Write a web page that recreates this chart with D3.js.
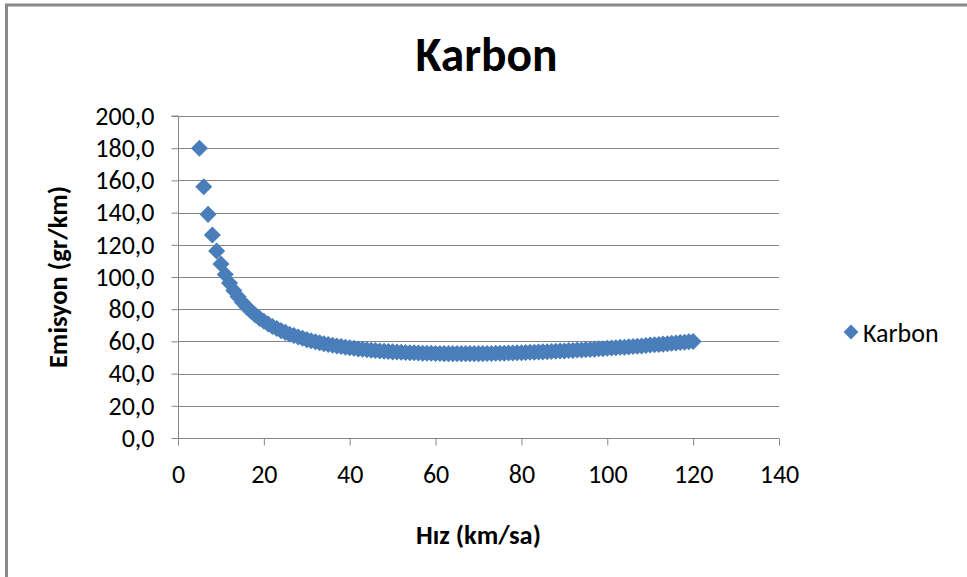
<!DOCTYPE html>
<html>
<head>
<meta charset="utf-8">
<script src="https://cdn.jsdelivr.net/npm/d3@7"></script>
<style>
  html, body { margin: 0; padding: 0; background: #fff; }
  svg { display: block; }
  text { font-family: Carlito, Lato, "Liberation Sans", sans-serif; fill: #000; }
</style>
</head>
<body>
<svg id="chart" width="967" height="577"></svg>
<script>
// ---- data ----
const chartTitle = "Karbon";
const seriesName = "Karbon";
const xTitle = "Hız (km/sa)";
const yTitle = "Emisyon (gr/km)";
const xTicks = [0, 20, 40, 60, 80, 100, 120, 140];
const yTicks = [0, 20, 40, 60, 80, 100, 120, 140, 160, 180, 200];

const speeds = [
  5, 6, 7, 8, 9, 10, 11, 12, 13, 14, 15, 16, 17, 18, 19, 20, 21, 22, 23, 24,
  25, 26, 27, 28, 29, 30, 31, 32, 33, 34, 35, 36, 37, 38, 39, 40, 41, 42, 43, 44,
  45, 46, 47, 48, 49, 50, 51, 52, 53, 54, 55, 56, 57, 58, 59, 60, 61, 62, 63, 64,
  65, 66, 67, 68, 69, 70, 71, 72, 73, 74, 75, 76, 77, 78, 79, 80, 81, 82, 83, 84,
  85, 86, 87, 88, 89, 90, 91, 92, 93, 94, 95, 96, 97, 98, 99, 100, 101, 102, 103, 104,
  105, 106, 107, 108, 109, 110, 111, 112, 113, 114, 115, 116, 117, 118, 119, 120
];
const emissions = [
  180.0, 156.0, 138.9, 126.1, 116.1, 108.1, 101.6, 96.2, 91.6, 87.7, 84.3, 81.3, 78.7, 76.4, 74.3, 72.5, 70.8, 69.3, 68.0, 66.7,
  65.6, 64.5, 63.6, 62.7, 61.9, 61.1, 60.4, 59.8, 59.2, 58.6, 58.1, 57.6, 57.2, 56.8, 56.4, 56.0, 55.7, 55.3, 55.1, 54.8,
  54.5, 54.3, 54.1, 53.9, 53.7, 53.5, 53.4, 53.2, 53.1, 53.0, 52.9, 52.8, 52.7, 52.6, 52.6, 52.5, 52.5, 52.4, 52.4, 52.4,
  52.4, 52.4, 52.4, 52.4, 52.4, 52.4, 52.4, 52.5, 52.5, 52.6, 52.6, 52.7, 52.8, 52.8, 52.9, 53.0, 53.1, 53.2, 53.3, 53.4,
  53.5, 53.6, 53.7, 53.9, 54.0, 54.1, 54.3, 54.4, 54.6, 54.7, 54.9, 55.0, 55.2, 55.4, 55.5, 55.7, 55.9, 56.1, 56.3, 56.4,
  56.6, 56.8, 57.0, 57.2, 57.5, 57.7, 57.9, 58.1, 58.3, 58.6, 58.8, 59.0, 59.3, 59.5, 59.8, 60.0
];

// ---- layout ----
const W = 967, H = 577;
const plot = { left: 178, right: 779, top: 116, bottom: 438 };
const gridColor = "#868686";
const markerColor = "#4a7ebb";
const tickFont = 26;

const svg = d3.select("#chart");

svg.append("rect").attr("width", W).attr("height", H).attr("fill", "#fff");

// outer frame (only top & left edges visible in reference)
svg.append("line").attr("x1", 5).attr("x2", W).attr("y1", 5).attr("y2", 5)
  .attr("stroke", "#8a8a8a").attr("stroke-width", 3);
svg.append("line").attr("x1", 6.5).attr("x2", 6.5).attr("y1", 4).attr("y2", H)
  .attr("stroke", "#8a8a8a").attr("stroke-width", 3);

const x = d3.scaleLinear().domain([0, 140]).range([plot.left, plot.right]);
const y = d3.scaleLinear().domain([0, 200]).range([plot.bottom, plot.top]);

// gridlines
svg.append("g")
  .selectAll("line")
  .data(yTicks)
  .join("line")
  .attr("x1", plot.left).attr("x2", plot.right)
  .attr("y1", d => Math.round(y(d)) + 0.5).attr("y2", d => Math.round(y(d)) + 0.5)
  .attr("stroke", gridColor).attr("stroke-width", 1);

// y axis
const yAxis = d3.axisLeft(y).tickValues(yTicks).tickSize(7).tickPadding(17)
  .tickFormat(d => d3.format(".1f")(d).replace(".", ","));
const gy = svg.append("g").attr("transform", `translate(${plot.left + 0.5},0)`).call(yAxis);
gy.select(".domain").attr("stroke", gridColor).attr("d", `M-7,${plot.top}H0V${plot.bottom}`);
gy.selectAll(".tick line").attr("stroke", gridColor);
gy.selectAll(".tick text").attr("font-size", tickFont).attr("fill", "#000")
  .style("font-family", "Carlito, Lato, sans-serif");

// x axis
const xAxis = d3.axisBottom(x).tickValues(xTicks).tickSize(7).tickPadding(19);
const gx = svg.append("g").attr("transform", `translate(0,${plot.bottom + 0.5})`).call(xAxis);
gx.select(".domain").attr("stroke", gridColor).attr("d", `M${plot.left},0H${plot.right}`);
gx.selectAll(".tick line").attr("stroke", gridColor);
gx.selectAll(".tick text").attr("font-size", tickFont).attr("fill", "#000")
  .style("font-family", "Carlito, Lato, sans-serif");

// markers
const diamond = d3.symbol().type(d3.symbolDiamond2).size(185);
svg.append("g")
  .selectAll("path")
  .data(speeds.map((s, i) => ({ s, v: emissions[i] })))
  .join("path")
  .attr("d", diamond)
  .attr("transform", d => `translate(${x(d.s)},${y(d.v)})`)
  .attr("fill", markerColor);

// titles
svg.append("text").attr("x", 486.5).attr("y", 71).attr("text-anchor", "middle")
  .attr("font-size", 47.5).attr("font-weight", "bold").text(chartTitle);

svg.append("text").attr("x", (plot.left + plot.right) / 2).attr("y", 544)
  .attr("text-anchor", "middle").attr("font-size", 26.5).attr("font-weight", "bold").text(xTitle);

svg.append("text").attr("transform", `translate(67,${(plot.top + plot.bottom) / 2}) rotate(-90)`)
  .attr("text-anchor", "middle").attr("font-size", 26.5).attr("font-weight", "bold").text(yTitle);

// legend
const lg = svg.append("g").attr("transform", "translate(851,332)");
lg.append("path").attr("d", d3.symbol().type(d3.symbolDiamond2).size(140)).attr("fill", markerColor);
lg.append("text").attr("x", 12).attr("y", 10).attr("font-size", 26).text(seriesName);
</script>
</body>
</html>
